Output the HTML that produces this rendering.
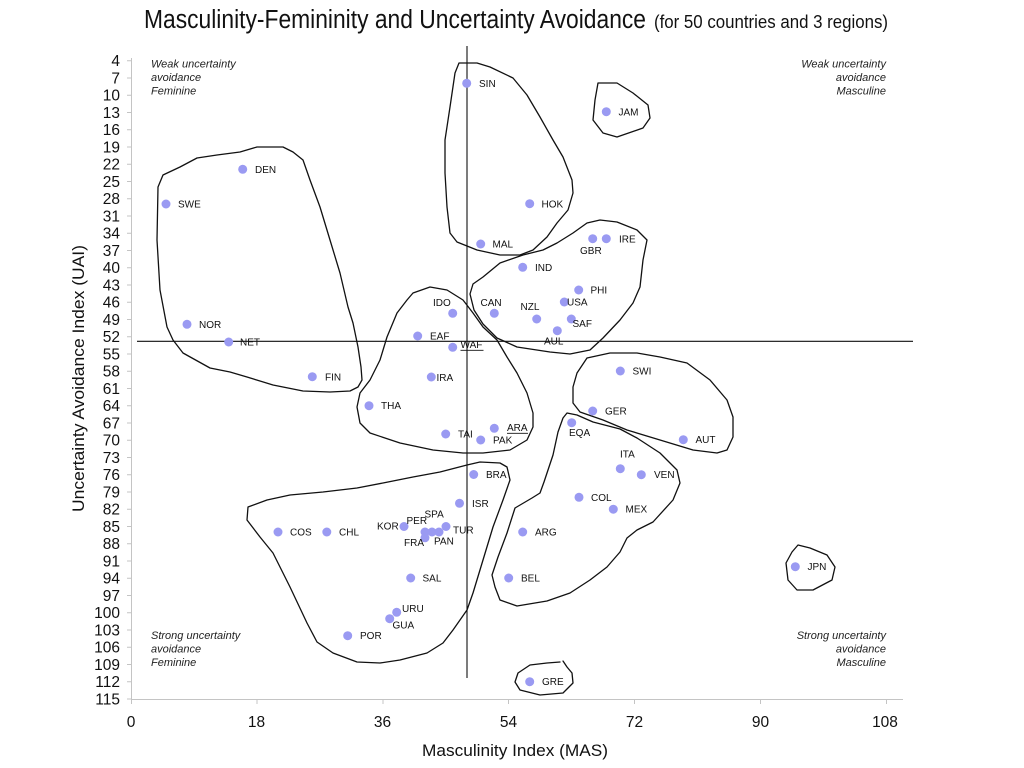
<!DOCTYPE html>
<html><head><meta charset="utf-8"><style>
html,body{margin:0;padding:0;background:#fff;}
svg{display:block;font-family:"Liberation Sans",Arial,sans-serif;}
</style></head><body>
<svg width="1024" height="768" viewBox="0 0 1024 768" xmlns="http://www.w3.org/2000/svg">
<rect width="1024" height="768" fill="#fff"/>
<!-- title -->
<text x="144" y="28" font-size="25.5" fill="#111" textLength="502" lengthAdjust="spacingAndGlyphs">Masculinity-Femininity and Uncertainty Avoidance</text>
<text x="654" y="28" font-size="18" fill="#111" textLength="234" lengthAdjust="spacingAndGlyphs">(for 50 countries and 3 regions)</text>

<!-- axes -->
<g stroke="#c4c4c4" stroke-width="1" fill="none">
<line x1="131.5" y1="58" x2="131.5" y2="699.5"/>
<line x1="131.5" y1="699.5" x2="903" y2="699.5"/>
<line x1="131.5" y1="699.5" x2="131.5" y2="704"/>
<line x1="257" y1="699.5" x2="257" y2="704"/>
<line x1="383" y1="699.5" x2="383" y2="704"/>
<line x1="508.5" y1="699.5" x2="508.5" y2="704"/>
<line x1="634.5" y1="699.5" x2="634.5" y2="704"/>
<line x1="760.5" y1="699.5" x2="760.5" y2="704"/>
<line x1="886.5" y1="699.5" x2="886.5" y2="704"/>
<path d="M127 60.7H131.5M127 77.95H131.5M127 95.2H131.5M127 112.45H131.5M127 129.7H131.5M127 146.95H131.5M127 164.2H131.5M127 181.45H131.5M127 198.7H131.5M127 215.95H131.5M127 233.2H131.5M127 250.45H131.5M127 267.7H131.5M127 284.95H131.5M127 302.2H131.5M127 319.45H131.5M127 336.7H131.5M127 353.95H131.5M127 371.2H131.5M127 388.45H131.5M127 405.7H131.5M127 422.95H131.5M127 440.2H131.5M127 457.45H131.5M127 474.7H131.5M127 491.95H131.5M127 509.2H131.5M127 526.45H131.5M127 543.7H131.5M127 560.95H131.5M127 578.2H131.5M127 595.45H131.5M127 612.7H131.5M127 629.95H131.5M127 647.2H131.5M127 664.45H131.5M127 681.7H131.5M127 698.95H131.5"/>
</g>

<!-- y tick labels -->
<g font-size="15.5" fill="#111" text-anchor="end">
<text x="120" y="66">4</text>
<text x="120" y="83.3">7</text>
<text x="120" y="100.5">10</text>
<text x="120" y="117.8">13</text>
<text x="120" y="135">16</text>
<text x="120" y="152.3">19</text>
<text x="120" y="169.5">22</text>
<text x="120" y="186.8">25</text>
<text x="120" y="204">28</text>
<text x="120" y="221.3">31</text>
<text x="120" y="238.5">34</text>
<text x="120" y="255.8">37</text>
<text x="120" y="273">40</text>
<text x="120" y="290.3">43</text>
<text x="120" y="307.5">46</text>
<text x="120" y="324.8">49</text>
<text x="120" y="342">52</text>
<text x="120" y="359.3">55</text>
<text x="120" y="376.5">58</text>
<text x="120" y="393.8">61</text>
<text x="120" y="411">64</text>
<text x="120" y="428.3">67</text>
<text x="120" y="445.5">70</text>
<text x="120" y="462.8">73</text>
<text x="120" y="480">76</text>
<text x="120" y="497.3">79</text>
<text x="120" y="514.5">82</text>
<text x="120" y="531.8">85</text>
<text x="120" y="549">88</text>
<text x="120" y="566.3">91</text>
<text x="120" y="583.5">94</text>
<text x="120" y="600.8">97</text>
<text x="120" y="618">100</text>
<text x="120" y="635.3">103</text>
<text x="120" y="652.5">106</text>
<text x="120" y="669.8">109</text>
<text x="120" y="687">112</text>
<text x="120" y="704.3">115</text>
</g>

<!-- x tick labels -->
<g font-size="15.5" fill="#111" text-anchor="middle">
<text x="131" y="727">0</text>
<text x="256.5" y="727">18</text>
<text x="382.5" y="727">36</text>
<text x="508.5" y="727">54</text>
<text x="634.5" y="727">72</text>
<text x="760.5" y="727">90</text>
<text x="885" y="727">108</text>
</g>

<!-- axis titles -->
<text x="422" y="756" font-size="17" fill="#111" textLength="186" lengthAdjust="spacingAndGlyphs">Masculinity Index (MAS)</text>
<text transform="translate(84,512) rotate(-90)" x="0" y="0" font-size="17" fill="#111" textLength="267" lengthAdjust="spacingAndGlyphs">Uncertainty Avoidance Index (UAI)</text>

<!-- quadrant labels -->
<g font-size="11" font-style="italic" fill="#222">
<text x="151" y="67.5">Weak uncertainty</text>
<text x="151" y="81">avoidance</text>
<text x="151" y="94.5">Feminine</text>
<text x="151" y="639">Strong uncertainty</text>
<text x="151" y="652.5">avoidance</text>
<text x="151" y="666">Feminine</text>
</g>
<g font-size="11" font-style="italic" fill="#222" text-anchor="end">
<text x="886" y="67.5">Weak uncertainty</text>
<text x="886" y="81">avoidance</text>
<text x="886" y="94.5">Masculine</text>
<text x="886" y="639">Strong uncertainty</text>
<text x="886" y="652.5">avoidance</text>
<text x="886" y="666">Masculine</text>
</g>

<!-- quadrant lines -->
<g stroke="#111" stroke-width="1.1">
<line x1="467" y1="46" x2="467" y2="678"/>
<line x1="137" y1="341.3" x2="913" y2="341.3"/>
</g>

<!-- blobs -->
<g fill="none" stroke="#111" stroke-width="1.3" stroke-linejoin="round" stroke-linecap="round">
<path d="M158,187 L163,175 L180,167 L197,158 L217,155 L240,152 L257,147 L283,147 L293,152 L303,160 L310,180 L320,207 L330,240 L340,273 L348,307 L353,323 L358,347 L361,367 L362,380 L358,387 L350,391 L330,392 L303,391 L273,385 L247,377 L230,372 L210,368 L183,353 L173,340 L167,327 L160,290 L157,240 Z"/>
<path d="M459,63 L477,63 L490,67 L513,78 L527,95 L540,117 L553,140 L563,157 L572,180 L573,193 L568,210 L557,223 L547,237 L533,250 L520,255 L500,255 L477,250 L457,242 L450,233 L447,207 L445,173 L445,140 L450,107 L455,73 Z"/>
<path d="M598,83 L617,83 L633,93 L648,105 L650,118 L643,128 L617,137 L603,133 L593,120 L595,100 Z"/>
<path d="M587,223 L600,220 L617,222 L637,230 L647,240 L643,260 L640,287 L633,303 L620,320 L603,338 L590,350 L570,354 L550,352 L517,347 L497,338 L483,324 L474,310 L470,294 L473,284 L483,277 L500,263 L523,255 L543,250 L557,243 L573,233 Z"/>
<path d="M413,293 L430,287 L447,290 L463,300 L473,313 L483,327 L497,340 L507,357 L517,373 L527,393 L533,413 L533,427 L527,440 L510,450 L483,453 L463,453 L433,450 L400,443 L370,433 L360,423 L357,407 L360,393 L370,380 L380,360 L387,337 L397,313 L407,300 Z"/>
<path d="M587,358 L610,353 L637,353 L660,357 L687,363 L710,380 L727,400 L733,417 L733,437 L727,450 L717,453 L693,450 L660,440 L627,430 L603,420 L580,412 L573,403 L573,387 L577,373 Z"/>
<path d="M563,418 L567,413 L577,415 L593,422 L620,429 L637,438 L660,453 L677,470 L680,483 L673,500 L653,522 L637,530 L627,538 L620,552 L607,567 L590,580 L570,593 L547,601 L517,606 L500,600 L495,587 L492,575 L498,557 L507,533 L515,508 L532,498 L540,493 L544,482 L548,470 L553,455 L558,432 Z"/>
<path d="M247,520 L248,507 L267,500 L290,495 L323,492 L357,488 L383,483 L413,477 L440,472 L467,465 L480,462 L500,463 L507,467 L510,480 L503,500 L493,527 L483,560 L473,593 L467,610 L453,630 L443,643 L427,653 L400,660 L380,663 L357,662 L333,653 L317,642 L307,623 L290,587 L273,553 L260,537 Z"/>
<path d="M798,545 L810,548 L827,555 L835,567 L832,580 L813,590 L797,590 L788,580 L786,563 L792,552 Z"/>
<path d="M560,662 L547,663 L530,665 L518,673 L515,682 L520,690 L540,695 L563,693 L573,683 L572,673 L567,667 L563,661"/>
</g>

<!-- dots -->
<g fill="#9a9af2">
<circle cx="242.7" cy="169.3" r="4.5"/>
<circle cx="166" cy="204" r="4.5"/>
<circle cx="187" cy="324.3" r="4.5"/>
<circle cx="228.7" cy="342" r="4.5"/>
<circle cx="312.3" cy="376.7" r="4.5"/>
<circle cx="466.7" cy="83.3" r="4.5"/>
<circle cx="606.3" cy="111.7" r="4.5"/>
<circle cx="529.7" cy="203.7" r="4.5"/>
<circle cx="480.7" cy="244" r="4.5"/>
<circle cx="592.7" cy="238.7" r="4.5"/>
<circle cx="606.3" cy="238.7" r="4.5"/>
<circle cx="522.7" cy="267.3" r="4.5"/>
<circle cx="578.7" cy="290" r="4.5"/>
<circle cx="564.3" cy="302" r="4.5"/>
<circle cx="452.7" cy="313.3" r="4.5"/>
<circle cx="494.3" cy="313.3" r="4.5"/>
<circle cx="536.7" cy="319" r="4.5"/>
<circle cx="571.3" cy="319" r="4.5"/>
<circle cx="557.3" cy="330.7" r="4.5"/>
<circle cx="417.7" cy="336" r="4.5"/>
<circle cx="452.7" cy="347.3" r="4.5"/>
<circle cx="431.3" cy="377" r="4.5"/>
<circle cx="369" cy="405.7" r="4.5"/>
<circle cx="445.7" cy="434" r="4.5"/>
<circle cx="494.3" cy="428.3" r="4.5"/>
<circle cx="480.7" cy="440" r="4.5"/>
<circle cx="473.7" cy="474.5" r="4.5"/>
<circle cx="620.3" cy="371" r="4.5"/>
<circle cx="592.7" cy="411" r="4.5"/>
<circle cx="571.7" cy="422.7" r="4.5"/>
<circle cx="683.3" cy="439.7" r="4.5"/>
<circle cx="620.3" cy="468.7" r="4.5"/>
<circle cx="641.3" cy="474.7" r="4.5"/>
<circle cx="579" cy="497.3" r="4.5"/>
<circle cx="613.3" cy="509.2" r="4.5"/>
<circle cx="459.5" cy="503.3" r="4.5"/>
<circle cx="278" cy="532" r="4.5"/>
<circle cx="326.8" cy="532" r="4.5"/>
<circle cx="404" cy="526.5" r="4.5"/>
<circle cx="446" cy="526.5" r="4.5"/>
<circle cx="425" cy="532" r="4.5"/>
<circle cx="432" cy="532" r="4.5"/>
<circle cx="439" cy="532" r="4.5"/>
<circle cx="425" cy="537.8" r="4.5"/>
<circle cx="410.7" cy="578" r="4.5"/>
<circle cx="396.7" cy="612.3" r="4.5"/>
<circle cx="389.7" cy="618.7" r="4.5"/>
<circle cx="347.7" cy="635.7" r="4.5"/>
<circle cx="522.7" cy="532" r="4.5"/>
<circle cx="508.7" cy="578" r="4.5"/>
<circle cx="795.3" cy="566.7" r="4.5"/>
<circle cx="529.7" cy="681.7" r="4.5"/>
</g>

<!-- country labels -->
<g font-size="10" fill="#111">
<text x="255" y="173">DEN</text>
<text x="178" y="207.5">SWE</text>
<text x="199" y="328">NOR</text>
<text x="240" y="345.5">NET</text>
<text x="325" y="380.5">FIN</text>
<text x="479" y="87">SIN</text>
<text x="618.5" y="115.5">JAM</text>
<text x="541.5" y="207.5">HOK</text>
<text x="492.5" y="247.5">MAL</text>
<text x="580" y="254">GBR</text>
<text x="619" y="242.5">IRE</text>
<text x="535" y="271">IND</text>
<text x="590.5" y="293.5">PHI</text>
<text x="567" y="305.5">USA</text>
<text x="433" y="306">IDO</text>
<text x="480.5" y="306">CAN</text>
<text x="520.5" y="310">NZL</text>
<text x="572.5" y="327">SAF</text>
<text x="544" y="344.5">AUL</text>
<text x="430" y="339.5">EAF</text>
<text x="460.5" y="348">WAF</text>
<text x="436.5" y="381">IRA</text>
<text x="381" y="409">THA</text>
<text x="458" y="437.5">TAI</text>
<text x="507" y="431">ARA</text>
<text x="493" y="443.5">PAK</text>
<text x="486" y="478">BRA</text>
<text x="632.5" y="374.5">SWI</text>
<text x="605" y="414.5">GER</text>
<text x="569" y="436">EQA</text>
<text x="695.5" y="443">AUT</text>
<text x="620" y="457.5">ITA</text>
<text x="654" y="478">VEN</text>
<text x="591" y="501">COL</text>
<text x="625.5" y="512.5">MEX</text>
<text x="472" y="507">ISR</text>
<text x="290" y="535.5">COS</text>
<text x="339" y="535.5">CHL</text>
<text x="377" y="529.5">KOR</text>
<text x="406.5" y="524">PER</text>
<text x="424.5" y="517.5">SPA</text>
<text x="453" y="533.5">TUR</text>
<text x="404" y="546">FRA</text>
<text x="434" y="544.5">PAN</text>
<text x="422.5" y="581.5">SAL</text>
<text x="402" y="612">URU</text>
<text x="392.5" y="628.5">GUA</text>
<text x="360" y="639">POR</text>
<text x="535" y="535.5">ARG</text>
<text x="521" y="581.5">BEL</text>
<text x="807.5" y="570">JPN</text>
<text x="542" y="685">GRE</text>
</g>
<g stroke="#111" stroke-width="0.9">
<line x1="460.5" y1="350.3" x2="483.5" y2="350.3"/>
<line x1="507" y1="433.3" x2="528" y2="433.3"/>
</g>
</svg>
</body></html>
